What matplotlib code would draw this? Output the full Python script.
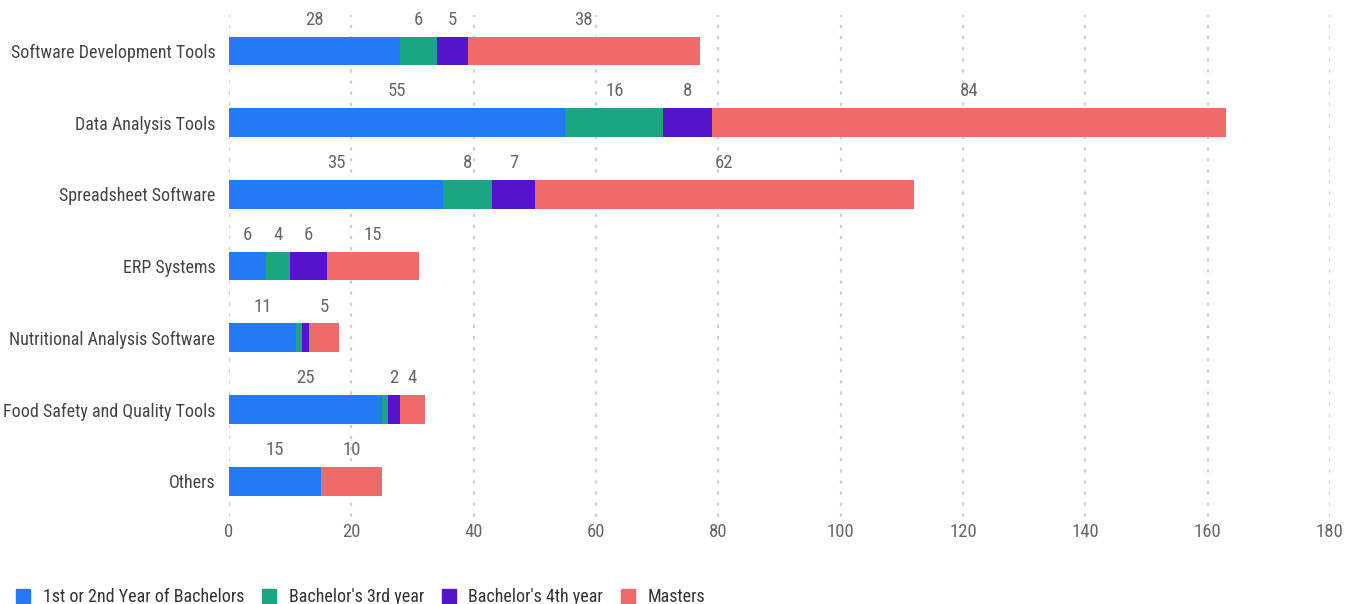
import matplotlib.pyplot as plt
from matplotlib.lines import Line2D

categories = [
    "Software Development Tools",
    "Data Analysis Tools",
    "Spreadsheet Software",
    "ERP Systems",
    "Nutritional Analysis Software",
    "Food Safety and Quality Tools",
    "Others",
]
series_names = [
    "1st or 2nd Year of Bachelors",
    "Bachelor's 3rd year",
    "Bachelor's 4th year",
    "Masters",
]
year_1_2 = [28, 55, 35, 6, 11, 25, 15]
year_3 = [6, 16, 8, 4, 1, 1, 0]
year_4 = [5, 8, 7, 6, 1, 2, 0]
masters = [38, 84, 62, 15, 5, 4, 10]
x_ticks = [0, 20, 40, 60, 80, 100, 120, 140, 160, 180]

colors = ["#2479F6", "#1BA584", "#5514C9", "#EF6A6A"]
text_color = "#666666"

plt.rcParams["font.family"] = ["Roboto Condensed", "DejaVu Sans"]

fig = plt.figure(figsize=(13.45, 6.04), dpi=100)
ax = fig.add_axes([0.1703, 0.144, 0.8185, 0.831])

ypos = list(range(len(categories)))
left = [0] * len(categories)
for name, vals, color in zip(series_names, [year_1_2, year_3, year_4, masters], colors):
    ax.barh(ypos, vals, left=left, height=0.4, color=color, label=name, zorder=3)
    # values under 2 are too thin to carry a label
    for y, l, v in zip(ypos, left, vals):
        if v >= 2:
            ax.text(l + v / 2, y - 0.31, str(v), ha="center", va="bottom",
                    fontsize=13.5, color=text_color)
    left = [a + b for a, b in zip(left, vals)]

ax.set_xlim(0, 180)
ax.set_ylim(6.5, -0.5)
ax.set_xticks(x_ticks)
ax.set_yticks(ypos)
ax.set_yticklabels(categories)
ax.tick_params(axis="both", length=0, labelsize=13, colors=text_color, pad=10)
ax.tick_params(axis="x", pad=4, labelsize=13.5)
for lab in ax.get_yticklabels():
    lab.set_color("#444444")

ax.grid(axis="x", color="#d0d0d0", linestyle=(0, (1.5, 3.5)), linewidth=1.6, zorder=0)
for s in ax.spines.values():
    s.set_visible(False)

handles = [
    Line2D([], [], marker="s", linestyle="none", markersize=10,
           markerfacecolor=c, markeredgecolor=c, label=n)
    for n, c in zip(series_names, colors)
]
fig.legend(handles=handles, loc="lower left", bbox_to_anchor=(0.0, -0.03),
           ncol=4, frameon=False, fontsize=13, labelcolor="#333333",
           handlelength=0.8, handletextpad=0.7, columnspacing=0.95)

fig.savefig("out.png", dpi=100)
